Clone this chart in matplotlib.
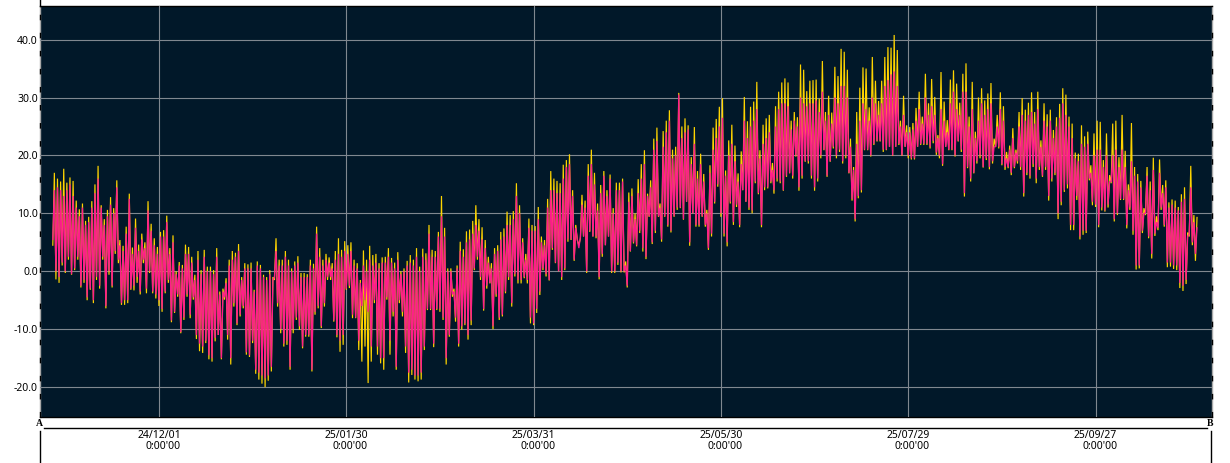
import numpy as np
import pandas as pd
import matplotlib
matplotlib.use("Agg")
import matplotlib.pyplot as plt
from matplotlib.lines import Line2D

yellow_high = [
 17,16,15.5,17.7,15.3,16.2,15.6,12.2,10.7,11.7, 8.7,9.4,12.1,15,18.2,11.4,9,10.6,12.8,10.9,
 15.7,5.4,4.4,7.7,13.4,4.1,9.1,4.6,6.5,5, 12.1,8.2,5.7,4.2,6.8,7.1,9.6,4,6.2,0, 1.6,1.1,4.6,4.2,
 2.5,-0.6,3.5,0.2,3.7,0.8,0.8,0.2,4,-3.5, -3,-1.2,2,3.5,3.2,4.7,-1,1.4,1.2,1.5,
 -3.2,1.7,1.1,-0.6,-1,0.2,-1,5.7,2,2, 3.5,2,0.5,1.7,2.6,-0.3,-0.3,-0.5,2,1.3, 7.7,4,2,3,2.4,1.4,3.5,5.7,
 3.7,5.2,4.5,5,2,1.4,-1.5,3.6,2,4.4, 2.8,3,1.4,2.4,2.5,4,2.3,1.5,3.3,0,
 0.5,1.8,2.8,2,4,0.8,3.9,3.1,8,3.7, 3.5,6.8,13,7.5,0.5,0.5,-3,1,5.1,3.8, 6.9,7.2,8.7,11.4,9,7.6,5.4,2.5,
 1.4,4,4.5,6.8,7.4,10.3,9.7,10.4,15.2,11.4, 5.7,3,9.1,8,7.8,11.1,6,5.4,12.5,17.3,
 16,15.6,15.2,18.4,19.2,20.2,14,8,4.5,13.2, 12.2,18.5,21,17,11.7,14.9,17.3,14,16.7,10.9, 15.3,15.3,16,1.7,13.6,14.3,10,15.9,
 18.5,20.9,13.4,15.7,22.9,24.8,11.7,24.2,26,27.8, 21,21.5,30.8,25,26.4,25.2,19.7,24.9,17.3,20.3,
 16.8,10.6,18.3,24.8,26.3,28.4,29.9,17.4,22.6,25.3, 21.7,16.9,20.7,30.1,25.9,28.4,29.3,32.7,20.9,25.3, 26.4,27,18.7,28.5,31,32.6,33.3,32.6,
 26,27.5,26.6,35.7,34.8,31.1,32.9,33,33.1,29.8, 36.3,27.5,30.3,27.4,35.3,33.7,38.4,37.9,34.8,22.9,
 18,27.5,31.7,35.2,35,28.3,37,32.9,29.4,32.9, 37,38.7,38.6,40.8,38.2,26,30.3,25.2,24.9,25.6, 28.2,31,26.7,34.1,29,33.2,30.1,23.5,
 34.4,29.3,26.1,33.1,34.7,32.4,29.1,34.1,35.9,26.7, 32.7,24.1,30,31.6,29.5,30.7,32.5,22.9,27,30.9,
 28.5,20.6,21.7,24.7,21,27.5,29.9,27.9,29.1,30.9, 27.5,31,22.6,29,27.1,27.9,24.4,26.6,28.9,31.6, 30.5,26.7,25.5,20.5,20.3,25.2,23.3,24.1,
 18.3,23.8,26,25.8,19.2,23.8,16.6,25.5,26,19.7, 27,20.8,15,25.6,18,16.8,15.6,10.9,18,15.5,
 19.6,9.5,19.3,14.9,15.7,11.9,12.4,12.2,11.1,13.3, 14.5,6.7,18.2,9.7,9.3,
]
yellow_low = [
 4.5,-1.4,-2,1,-0.3,2,-0.6,0.2,2,-2.8, -2,-5,-3.2,-5.5,-1.5,-3,2,-6.4,-0.6,-2.8,
 3,1.4,-5.8,-5.8,-5.5,-3.2,-3.3,-2,-4,1.4, -3.8,-0.3,-3.8,-4.7,-6,-7,-3.8,-2,-8.8,-7.2, -4.4,-10.7,-8.4,-4.4,
 -8.1,-4.9,-11.7,-13.8,-14.1,-12.4,-15.2,-15.6,-12.1,-11, -15.2,-4.9,-11.8,-16.1,-6.1,-9.3,-7.8,-6.4,-14.4,-14.8,
 -12.4,-17.7,-18.7,-19.4,-20,-18.9,-17.3,-1.5,-6.1,-10.7, -13,-12.7,-17,-10.7,-8.4,-10.1,-13.3,-11.3,-11.3,-17.3, -7.5,-6.4,-9.8,-6.1,-1.5,-1.5,-8.7,-11.4,
 -13.9,-12.7,-3.2,-2.9,-8.1,-8.1,-13.6,-15.6,-13,-19.3, -15.6,-5.5,-14.4,-15.9,-17,-4.9,-14.4,-7.8,-17,-5.5,
 -7.8,-14.1,-19.2,-17.9,-18.7,-19,-18.7,-13.6,-6.7,-6.7, -13.1,-6.7,-7,-8.4,-16.1,-11.3,-4.4,-8.7,-13,-10.1, -9.3,-11.8,-9.3,0.2,2,-1.5,-6.8,-3,
 -2.1,-10,-4.4,-8.4,-7.8,-3.8,-1.5,-6.1,-0.9,-2.1, -2.1,-1.2,-2.1,-9,-9.3,-7.2,-4.1,0.2,-0.9,-1.6,
 3.7,1.4,0,-1.5,0.2,5.1,5.4,1.8,5.4,5.7, 6,-0.3,6.8,6,5.7,-1.4,2.5,4.5,6,-0.3, -0.3,1.1,-0.2,-0.2,-2.8,3.4,4.8,4.3,
 6.6,3.4,2.1,9.4,4.7,6.6,9.4,5.1,9.4,7.7, 6.7,9.4,10.6,10.9,8.9,12,4.4,10,7.7,7.7,
 9.4,7.7,3.7,6,11.7,14.6,9.4,6,4.3,11.7, 8,11.1,7.6,14,12,10.6,10,15.2,13.3,7.6, 14,14.3,15.2,13.4,15.5,15.2,13.9,16.3,
 16.9,16,19.8,13.9,16,18.9,18.6,16,13.9,15.5, 19.5,20.9,16.3,18.9,21.2,19.5,20.6,18.6,19.5,16.9,
 12.2,8.6,12.6,13.6,20.9,20.9,19.8,21.8,22.4,22.4, 20.6,20.9,21.5,19.9,21.5,21.8,19.9,21.5,19.5,19.3, 19.3,21.5,21.8,21.8,21.8,21.2,22.1,20.1,
 19.5,18.2,21.5,20.9,20.9,19.8,22.4,20.6,12.9,17.8, 15.5,16.9,18.6,19.5,17.9,19.2,17.6,18.6,21.5,21.2,
 18.3,17.5,17.8,16.6,17.8,18.6,17.5,12.9,16.6,16, 18,15.2,17.5,16.3,17.5,12.2,15.5,16.6,9,11.4, 13.7,14.3,7.1,7.1,12.3,5.5,6.3,6.6,
 15.7,11.4,11.1,7.6,10.5,10.3,11,15.2,8.6,9.7, 12.3,12.3,7.4,10.6,6.3,0.3,0.5,6.6,9.7,5.7,
 2.2,6.1,7.1,10.6,7.7,0.7,0.8,0.4,0.2,-2.9, -3.4,-2.2,6,4.5,1.8,
]
pink_high = [
 14,14.5,14,13,14,15,13,11,9.5,11, 8,8.5,11,13.5,16,11,8,9.5,11.5,10,
 14.5,4.5,3.5,6.5,12.5,3,7.5,3.5,5.5,4, 10.5,7,4.5,3,6,6,8.5,3,5,-0.5, 1,0.5,3,3,
 1.5,-1.5,2,-0.5,2.5,0,0,-0.5,2.5,-4, -3.5,-2,1,2,2.5,3.5,-1.5,0.5,0.5,0.5,
 -3.5,1,0.5,-1,-1.5,-0.5,-1.5,3.5,1,1, 2.5,1,0,1,1.5,-1,-1,-1,1,0.5, 6.5,2.5,1,2,1.5,0.5,2,3,
 2.5,3.5,3,3.5,1,0.5,-2,1,0,2, 1,1.5,0.5,1.5,1.5,2.5,1.5,0.5,2,-0.5,
 0,1,1.5,1,2.5,0,2.5,2,6.5,2.5, 2.5,6,9.5,6,0,0,-3.5,0.5,3.5,2.5, 5,5.5,6.5,8,7,5.5,4,1.5,
 0.5,3,3.5,5.5,6,8,8,9,13,10, 5,2,7.5,7,7,9,5,4.5,11,14,
 14,13.5,13.5,16,18,18.5,13,7.5,4,11.5, 11,16.5,18.5,15,10.5,13.5,16.5,13,16,10, 14,14,15.5,1,12,13,9,13.5,
 16,18.5,13,14.5,21,22.5,11,21.5,24,26, 19.5,20,30.5,23,24,24.5,18.5,22,16,18.5,
 15.5,10,17,21,23,25,26.5,16.5,20,22, 19,15.5,18.5,26,23,25,26,28,19.5,22, 23,24,17.5,25,28,29,29,28.5,
 24.5,26,25,30,29,28.5,29,29,29.5,27.5, 31,26,27,25.5,30,29,32,32,30,21.5,
 17.5,22,26,29,28,26,30,29,27,29, 32,33,34,34.5,32,25,27,24,24,24.5, 26,28,25.5,30,27,28.5,27,23,
 28,26,24,29,31,28,27,31,31,25, 28,23,26,29,27,28,29,21.5,25,28,
 26,19.5,21,23,20.5,25,27,26,27,27.5, 25.5,28,21.5,26,25,26,23,25,26.5,29, 27,25,23,19.5,19,22,21.5,22,
 17,20,21,21,18,20,15.5,20,21,18, 21,18,14,19,16.5,15.5,14.5,10,16.5,14,
 17.5,8.5,17,13.5,14.5,11,11.5,11,10.5,12, 12.5,6,14.5,8.5,7.5,
]
pink_low = [
 5.5,0,-1,1.5,0,2.5,-0.5,0.5,2.5,-2.5, -1.5,-4.5,-3,-5,-1,-2.5,2.5,-6,0,-2.5,
 3.5,2,-5.5,-5,-5,-3,-2.5,-1,-3.5,2, -3,0,-3.5,-4,-5,-6.5,-3.5,-1.5,-8.5,-7, -4,-10.5,-8,-4,
 -7.5,-4.5,-11,-12.5,-13,-12,-14.5,-15,-11.5,-11, -15,-4.5,-11,-15,-5.5,-9,-7.5,-6,-14,-14.5,
 -12,-17,-17.5,-18,-18.5,-18,-16.5,-1,-5.5,-10, -12.5,-12,-16.5,-10,-8,-9.5,-13,-11,-11,-17, -7,-6,-9.5,-5.5,-1,-1,-8.5,-11,
 -12,-11,-3,-2.5,-7.5,-8,-12,-6,-5,-7, -13,-5,-13,-15,-15,-4.5,-12,-7,-16.5,-5,
 -7,-13,-17.5,-17,-18,-18,-17.5,-13,-6.5,-6.5, -12.5,-6.5,-6.5,-8,-15,-11,-4,-8,-12.5,-9.5, -9,-11,-8.5,0.5,2.5,-1,-6.5,-2.5,
 -2,-9.5,-4,-8,-7.5,-3.5,-1,-5.5,-0.5,-1.5, -1.5,-1,-1.5,-8,-9,-6.5,-3.5,0.5,-0.5,-1.5,
 4,1.5,0,-1,0.5,5.5,5.5,2,5.5,6, 6,0,7,6,6,-1,3,4.5,6,0, 0,1.5,0,0,-2.5,3.5,5,4.5,
 7,4,2.5,9.5,5,7,9.5,5.5,9.5,8, 7,9.5,11,11,9,12,5,10,8,8,
 9.5,8,4,6.5,12,15,10,6.5,5,12, 8.5,11.5,8,14,12,11,10.5,15.5,13.5,8, 14.5,14.5,15.5,14,16,15.5,14,16.5,
 17,16.5,20,14.5,16.5,19,19,16.5,14.5,16, 20,21,16.5,19,21.5,20,21,19,20,17,
 12.5,9,13,14,21,21,20,22,22.5,22.5, 21,21,21.5,20,21.5,22,20,21.5,20,19.5, 19.5,21.5,22,22,22,21.5,22.5,20.5,
 20,18.5,21.5,21,21,20,22.5,21,13.5,18, 16,17,19,20,18,19.5,18,19,21.5,21.5,
 18.5,18,18,17,18,19,18,13.5,17,16.5, 18.5,16,18,16.5,18,13,16,17,10,12, 14,15,8,8,13,6,7,7,
 16,12,11.5,8,11,10.5,11.5,15.5,9,10, 12.5,12.5,8,11,7,1,1,7,10,6,
 3,6.5,7.5,11,8,1.5,1.5,1,1,-2, -2.5,-1.5,6.5,5,3,
]
tick_dates = ["2024-12-01", "2025-01-30", "2025-03-31", "2025-05-30", "2025-07-29", "2025-09-27"]
tick_labels = ["24/12/01", "25/01/30", "25/03/31", "25/05/30", "25/07/29", "25/09/27"]
y_ticks = [-20, -10, 0, 10, 20, 30, 40]

W, H = 1230, 463
FONT = "Noto Sans"
BG = "#011829"
GRID = "#808890"

n = min(len(yellow_high), len(yellow_low), len(pink_high), len(pink_low))
times = pd.date_range("2024-10-28", periods=2 * n, freq="12h")
yellow = np.column_stack([yellow_low[:n], yellow_high[:n]]).ravel()
pink = np.column_stack([pink_low[:n], pink_high[:n]]).ravel()

fig = plt.figure(figsize=(W / 100, H / 100), dpi=100, facecolor="white")
ax = fig.add_axes([40 / W, (H - 417) / H, (1212 - 40) / W, 411 / H], facecolor=BG)

ax.plot(times, yellow, color="#FFD400", lw=0.85, solid_joinstyle="miter", zorder=3)
ax.plot(times, pink, color="#FF1493", lw=0.95, alpha=0.95, solid_joinstyle="miter", zorder=4)

t0 = pd.Timestamp(tick_dates[0])
ax.set_xlim(t0 - pd.Timedelta(days=38.1), t0 + pd.Timedelta(days=337.3))
ax.set_ylim(-25.16, 45.8)

ax.set_xticks(pd.to_datetime(tick_dates))
ax.set_xticklabels([f"{d}\n0:00'00" for d in tick_labels], family=FONT, fontsize=7.5,
                   linespacing=0.95, multialignment="right")
ax.set_yticks(y_ticks)
ax.set_yticklabels([f"{v:.1f}" for v in y_ticks], family=FONT, fontsize=7.5)
ax.tick_params(axis="x", length=0, pad=9.6, colors="black")
ax.tick_params(axis="y", length=0, pad=1.5, colors="black")
ax.grid(True, color=GRID, lw=0.8, zorder=2)
ax.set_axisbelow(False)
for line in ax.get_xgridlines() + ax.get_ygridlines():
    line.set_zorder(5)

for side in ("top", "bottom"):
    ax.spines[side].set_color("black")
    ax.spines[side].set_linewidth(1.0)
for side in ("left", "right"):
    ax.spines[side].set_color("#a8a8a8")
    ax.spines[side].set_linewidth(1.0)
    xp = 0 if side == "left" else 1
    ax.plot([xp, xp], [0, 1], transform=ax.transAxes, color="black", lw=1.0,
            ls=(0, (4, 9)), clip_on=False, zorder=6)


def px_line(x0, y0, x1, y1):
    fig.add_artist(Line2D([x0 / W, x1 / W], [1 - y0 / H, 1 - y1 / H], color="black", lw=1.0))


px_line(40, 0, 40, 6)
px_line(40, 431, 40, 463)
px_line(1210.5, 431, 1210.5, 463)
px_line(44, 428, 1207, 428)

for label, xp in (("A", 39.5), ("B", 1210.5)):
    fig.text(xp / W, 1 - 423.5 / H, label, family="Liberation Serif", weight="bold",
             fontsize=7, ha="center", va="center", color="black")

fig.savefig("out.png", dpi=100, facecolor="white")
